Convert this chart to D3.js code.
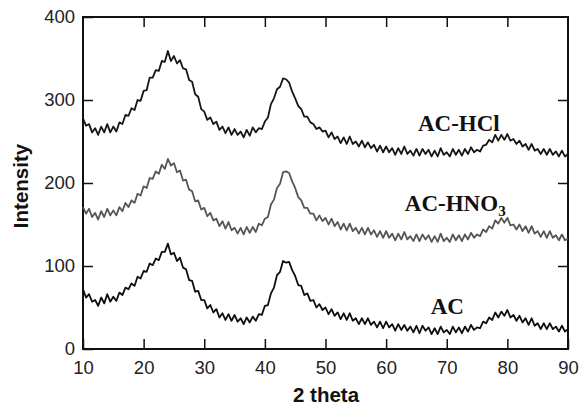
<!DOCTYPE html>
<html>
<head>
<meta charset="utf-8">
<script src="https://cdn.jsdelivr.net/npm/d3@7"></script>
<style>
  body { margin: 0; background: #fff; }
  .tick text { font-family: "Liberation Sans", Arial, sans-serif; font-size: 18.5px; fill: #222; }
  .axis-title { font-family: "Liberation Sans", Arial, sans-serif; font-weight: bold; font-size: 20.5px; fill: #111; }
  .series-label { font-family: "Liberation Serif", "Times New Roman", serif; font-weight: bold; font-size: 23px; fill: #111; }
</style>
</head>
<body>
<svg id="chart" width="579" height="405"></svg>
<script>
const margin = { left: 83, right: 11, top: 17, bottom: 56 };
const width = 579 - margin.left - margin.right;
const height = 405 - margin.top - margin.bottom;

// 2 theta sampled every 0.5 degree, 10 .. 90
const twoTheta = d3.range(161).map(i => 10 + i * 0.5);

const xTicks = [10, 20, 30, 40, 50, 60, 70, 80, 90];
const yTicks = [0, 100, 200, 300, 400];

// intensities, one value per 0.5 degree
const acHCl = [
  278, 269, 271, 261, 266, 258, 268, 261, 271, 261, 268, 262, 273, 271, 282, 281, 290, 288, 300, 299,
  311, 312, 327, 327, 336, 335, 347, 346, 359, 347, 353, 344, 348, 338, 337, 324, 322, 307, 304, 289,
  286, 276, 279, 271, 274, 264, 268, 260, 267, 258, 265, 258, 262, 255, 264, 257, 267, 261, 266, 265,
  274, 279, 295, 302, 313, 316, 326, 325, 321, 310, 302, 293, 289, 280, 280, 273, 271, 265, 267, 262,
  263, 255, 261, 253, 256, 248, 255, 247, 256, 247, 250, 244, 251, 243, 249, 242, 246, 238, 245, 237,
  244, 237, 242, 234, 242, 235, 244, 235, 239, 233, 241, 233, 241, 235, 240, 232, 239, 232, 242, 234,
  237, 232, 241, 234, 240, 233, 241, 235, 243, 237, 240, 238, 245, 246, 252, 249, 258, 251, 258, 252,
  259, 251, 253, 247, 251, 244, 247, 240, 247, 239, 241, 235, 241, 234, 241, 234, 238, 232, 239, 232,
  235
];
const acHNO3 = [
  171, 163, 169, 159, 164, 156, 166, 159, 169, 161, 167, 161, 171, 166, 176, 171, 179, 176, 187, 185,
  196, 194, 206, 205, 214, 211, 222, 217, 229, 221, 224, 213, 215, 203, 204, 192, 190, 178, 179, 168,
  170, 160, 164, 155, 157, 148, 154, 145, 153, 143, 146, 139, 146, 138, 147, 140, 147, 141, 151, 149,
  157, 159, 174, 180, 194, 199, 213, 214, 212, 202, 194, 183, 179, 170, 170, 163, 163, 155, 161, 154,
  158, 150, 157, 148, 153, 144, 151, 143, 151, 142, 146, 139, 146, 138, 146, 138, 143, 135, 142, 134,
  142, 134, 139, 131, 139, 132, 141, 132, 136, 130, 138, 130, 138, 132, 137, 129, 136, 129, 139, 130,
  134, 129, 138, 131, 137, 130, 138, 132, 140, 134, 138, 136, 144, 141, 148, 145, 155, 151, 158, 152,
  158, 149, 150, 144, 150, 142, 148, 140, 148, 139, 142, 135, 142, 134, 142, 134, 137, 131, 138, 131,
  133
];
const acRaw = [
  72, 62, 66, 57, 59, 52, 62, 55, 66, 57, 63, 58, 68, 65, 74, 72, 79, 76, 87, 85,
  94, 93, 103, 101, 109, 107, 117, 117, 127, 114, 116, 106, 110, 98, 96, 83, 82, 69, 70, 59,
  59, 49, 53, 44, 48, 38, 43, 35, 42, 34, 41, 33, 37, 30, 38, 32, 39, 34, 42, 41,
  52, 53, 67, 74, 89, 93, 106, 104, 105, 95, 88, 77, 76, 65, 67, 58, 59, 50, 54, 47,
  50, 42, 48, 40, 44, 36, 43, 35, 43, 34, 37, 30, 37, 30, 37, 29, 33, 26, 33, 25,
  33, 26, 30, 22, 30, 23, 29, 22, 27, 20, 28, 19, 28, 22, 26, 18, 25, 18, 27, 20,
  23, 18, 27, 20, 26, 19, 27, 21, 29, 23, 26, 25, 33, 31, 38, 35, 44, 38, 45, 40,
  47, 38, 41, 34, 40, 32, 37, 29, 37, 28, 31, 24, 31, 24, 31, 24, 27, 21, 28, 21,
  24
];

const seriesNames = ['AC-HCl', 'AC-HNO3', 'AC'];
const seriesValues = [acHCl, acHNO3, acRaw];
const seriesColors = ['#151515', '#555555', '#0d0d0d'];
// label anchor in data units (centre, baseline)
const labelAt = [[72, 263], [71.4, 166], [70.1, 42]];

const svg = d3.select('#chart');
const g = svg.append('g').attr('transform', 'translate(' + margin.left + ',' + margin.top + ')');

const x = d3.scaleLinear().domain([10, 90]).range([0, width]);
const y = d3.scaleLinear().domain([0, 400]).range([height, 0]);

// axes: ticks point inwards on all four sides
function styleAxis(sel) {
  sel.select('.domain').remove();
  sel.selectAll('.tick line').attr('stroke', '#111').attr('stroke-width', 1.5);
}

g.append('g')
  .attr('transform', 'translate(0,' + height + ')')
  .call(d3.axisBottom(x).tickValues(xTicks).tickSize(-10).tickPadding(12))
  .call(styleAxis);

g.append('g')
  .call(d3.axisTop(x).tickValues(xTicks.slice(1, -1)).tickSize(-10).tickFormat(''))
  .call(styleAxis);

g.append('g')
  .call(d3.axisLeft(y).tickValues(yTicks).tickSize(-10).tickPadding(8))
  .call(styleAxis);

g.append('g')
  .attr('transform', 'translate(' + width + ',0)')
  .call(d3.axisRight(y).tickValues(yTicks.slice(1, -1)).tickSize(-10).tickFormat(''))
  .call(styleAxis);

g.selectAll('.tick text').attr('fill', '#222');

g.append('rect')
  .attr('width', width)
  .attr('height', height)
  .attr('fill', 'none')
  .attr('stroke', '#111')
  .attr('stroke-width', 2);

const line = d3.line()
  .x((d, i) => x(twoTheta[i]))
  .y(d => y(d));

seriesValues.forEach((vals, k) => {
  g.append('path')
    .attr('d', line(vals))
    .attr('fill', 'none')
    .attr('stroke', seriesColors[k])
    .attr('stroke-width', 1.8)
    .attr('stroke-linejoin', 'round');
});

seriesNames.forEach((name, k) => {
  const t = g.append('text')
    .attr('class', 'series-label')
    .attr('x', x(labelAt[k][0]))
    .attr('y', y(labelAt[k][1]))
    .attr('text-anchor', 'middle');
  if (name === 'AC-HNO3') {
    t.append('tspan').text('AC-HNO');
    t.append('tspan').attr('font-size', '15px').attr('dy', 5).text('3');
  } else {
    t.text(name);
  }
});

svg.append('text')
  .attr('class', 'axis-title')
  .attr('x', 326)
  .attr('y', 402)
  .attr('text-anchor', 'middle')
  .text('2 theta');

svg.append('text')
  .attr('class', 'axis-title')
  .attr('transform', 'translate(28,186) rotate(-90)')
  .attr('text-anchor', 'middle')
  .text('Intensity');
</script>
</body>
</html>
